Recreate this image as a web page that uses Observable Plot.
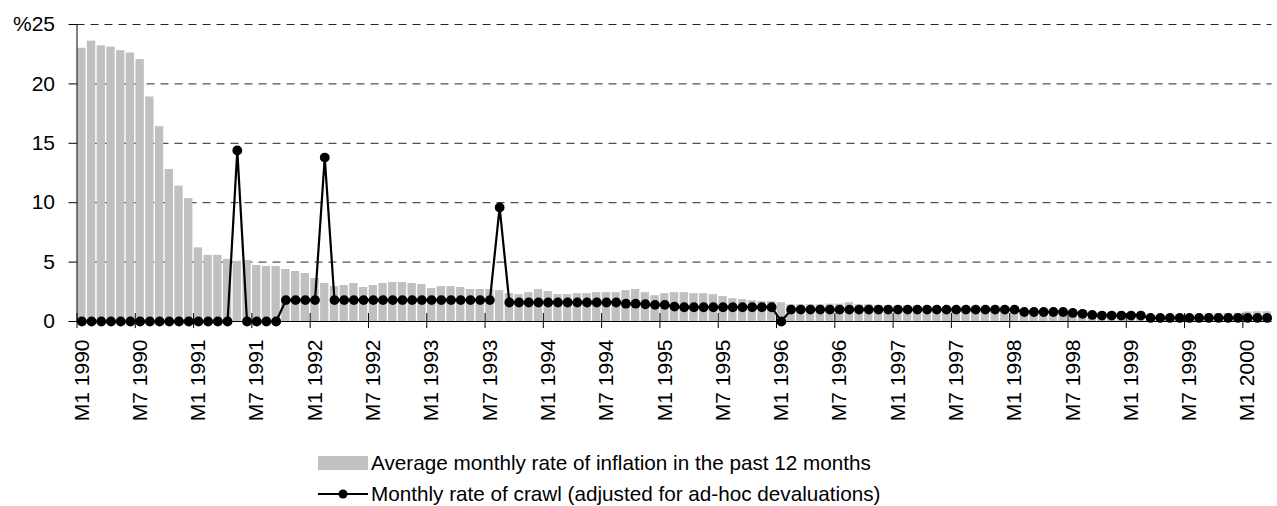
<!DOCTYPE html>
<html>
<head>
<meta charset="utf-8">
<script src="https://cdn.jsdelivr.net/npm/d3@7"></script>
<script src="https://cdn.jsdelivr.net/npm/@observablehq/plot@0.6"></script>
<style>
  html, body { margin: 0; padding: 0; background: #fff; }
  body { width: 1277px; height: 506px; position: relative; overflow: hidden; font-family: "Liberation Sans", Arial, sans-serif; }
  #chart { position: absolute; left: 0; top: 0; }
  .leg { position: absolute; left: 318px; font-size: 20.7px; line-height: 24px; color: #000; display: flex; align-items: center; white-space: nowrap; }
  .leg svg { display: block; margin-right: 3px; }
</style>
</head>
<body>
<div id="chart"></div>
<div class="leg" style="top:451px"><svg width="50" height="16"><rect x="0" y="1" width="50" height="14" fill="#c0c0c0"/></svg><span>Average monthly rate of inflation in the past 12 months</span></div>
<div class="leg" style="top:482px"><svg width="50" height="16"><line x1="0" y1="8" x2="50" y2="8" stroke="#000" stroke-width="2"/><circle cx="25" cy="8" r="4.5" fill="#000"/></svg><span>Monthly rate of crawl (adjusted for ad-hoc devaluations)</span></div>
<script>
const months = [
  "M1 1990","M2 1990","M3 1990","M4 1990","M5 1990","M6 1990","M7 1990","M8 1990","M9 1990","M10 1990","M11 1990","M12 1990",
  "M1 1991","M2 1991","M3 1991","M4 1991","M5 1991","M6 1991","M7 1991","M8 1991","M9 1991","M10 1991","M11 1991","M12 1991",
  "M1 1992","M2 1992","M3 1992","M4 1992","M5 1992","M6 1992","M7 1992","M8 1992","M9 1992","M10 1992","M11 1992","M12 1992",
  "M1 1993","M2 1993","M3 1993","M4 1993","M5 1993","M6 1993","M7 1993","M8 1993","M9 1993","M10 1993","M11 1993","M12 1993",
  "M1 1994","M2 1994","M3 1994","M4 1994","M5 1994","M6 1994","M7 1994","M8 1994","M9 1994","M10 1994","M11 1994","M12 1994",
  "M1 1995","M2 1995","M3 1995","M4 1995","M5 1995","M6 1995","M7 1995","M8 1995","M9 1995","M10 1995","M11 1995","M12 1995",
  "M1 1996","M2 1996","M3 1996","M4 1996","M5 1996","M6 1996","M7 1996","M8 1996","M9 1996","M10 1996","M11 1996","M12 1996",
  "M1 1997","M2 1997","M3 1997","M4 1997","M5 1997","M6 1997","M7 1997","M8 1997","M9 1997","M10 1997","M11 1997","M12 1997",
  "M1 1998","M2 1998","M3 1998","M4 1998","M5 1998","M6 1998","M7 1998","M8 1998","M9 1998","M10 1998","M11 1998","M12 1998",
  "M1 1999","M2 1999","M3 1999","M4 1999","M5 1999","M6 1999","M7 1999","M8 1999","M9 1999","M10 1999","M11 1999","M12 1999",
  "M1 2000","M2 2000","M3 2000"
];

// Average monthly rate of inflation in the past 12 months (%)
const inflation = [
  23.0, 23.6, 23.2, 23.1, 22.8, 22.6, 22.05, 18.9, 16.4, 12.8, 11.4, 10.35,
  6.2, 5.57, 5.57, 5.23, 5.06, 5.14, 4.72, 4.63, 4.63, 4.38, 4.21, 4.04,
  3.62, 3.2, 2.94, 3.03, 3.2, 2.86, 3.03, 3.2, 3.28, 3.28, 3.2, 3.11,
  2.77, 2.94, 2.94, 2.86, 2.69, 2.69, 2.69, 2.6, 2.34, 2.26, 2.43, 2.69,
  2.52, 2.26, 2.26, 2.34, 2.34, 2.43, 2.43, 2.43, 2.6, 2.69, 2.43, 2.18,
  2.34, 2.43, 2.43, 2.34, 2.34, 2.26, 2.1, 1.92, 1.84, 1.75, 1.67, 1.67,
  1.58, 1.41, 1.41, 1.41, 1.41, 1.46, 1.46, 1.58, 1.41, 1.41, 1.35, 1.33,
  1.3, 1.3, 1.28, 1.25, 1.22, 1.2, 1.18, 1.15, 1.12, 1.1, 1.08, 1.05,
  1.05, 1.02, 1.0, 0.98, 0.95, 0.92, 0.9, 0.85, 0.8, 0.75, 0.72, 0.7,
  0.6, 0.55, 0.52, 0.52, 0.53, 0.53, 0.55, 0.6, 0.64, 0.66, 0.68, 0.68,
  0.8, 0.82, 0.82
];

// Monthly rate of crawl, adjusted for ad-hoc devaluations (%)
const crawl = [
  0, 0, 0, 0, 0, 0, 0, 0, 0, 0, 0, 0,
  0, 0, 0, 0, 14.4, 0, 0, 0, 0, 1.8, 1.8, 1.8,
  1.8, 13.8, 1.8, 1.8, 1.8, 1.8, 1.8, 1.8, 1.8, 1.8, 1.8, 1.8,
  1.8, 1.8, 1.8, 1.8, 1.8, 1.8, 1.8, 9.6, 1.6, 1.6, 1.6, 1.6,
  1.6, 1.6, 1.6, 1.6, 1.6, 1.6, 1.6, 1.6, 1.5, 1.5, 1.45, 1.4,
  1.4, 1.25, 1.2, 1.2, 1.2, 1.2, 1.2, 1.2, 1.2, 1.2, 1.2, 1.2,
  0, 1.0, 1.0, 1.0, 1.0, 1.0, 1.0, 1.0, 1.0, 1.0, 1.0, 1.0,
  1.0, 1.0, 1.0, 1.0, 1.0, 1.0, 1.0, 1.0, 1.0, 1.0, 1.0, 1.0,
  1.0, 0.8, 0.8, 0.8, 0.8, 0.8, 0.72, 0.65, 0.55, 0.5, 0.5, 0.5,
  0.5, 0.5, 0.3, 0.3, 0.3, 0.3, 0.3, 0.3, 0.3, 0.3, 0.3, 0.3,
  0.3, 0.3, 0.3
];

const yTicks = [0, 5, 10, 15, 20, 25];
const tickLabels = [
  "M1 1990","M7 1990","M1 1991","M7 1991","M1 1992","M7 1992","M1 1993","M7 1993",
  "M1 1994","M7 1994","M1 1995","M7 1995","M1 1996","M7 1996","M1 1997","M7 1997",
  "M1 1998","M7 1998","M1 1999","M7 1999","M1 2000"
];

const table = months.map((m, i) => ({month: m, i, i1: i + 1, ic: i + 0.5, inflation: inflation[i], crawl: crawl[i]}));
const tickIdx = tickLabels.map(l => months.indexOf(l));
const labelPos = tickIdx.map(i => i + 0.5);

const chart = Plot.plot({
  width: 1277,
  height: 440,
  marginTop: 24,
  marginBottom: 119,
  marginLeft: 76.5,
  marginRight: 5.5,
  x: {domain: [0, months.length], axis: null},
  y: {domain: [0, 25], axis: null},
  style: {fontFamily: "'Liberation Sans', Arial, sans-serif", fontSize: "21px", color: "#000", background: "#fff"},
  marks: [
    Plot.ruleY(yTicks.filter(d => d > 0), {stroke: "#000", strokeOpacity: 0.85, strokeDasharray: "8,6"}),
    Plot.rectY(table, {x1: "i", x2: "i1", y: "inflation", fill: "#c0c0c0", insetLeft: 0.7, insetRight: 0.7}),
    Plot.ruleX([0], {stroke: "#000", strokeWidth: 1}),
    Plot.ruleY([0], {stroke: "#000", strokeWidth: 1}),
    Plot.ruleX(tickIdx, {x: d => d, y1: -0.6, y2: 0.67, stroke: "#000"}),
    Plot.axisY({ticks: yTicks, tickSize: 8, tickPadding: 14, tickFormat: d => d === 25 ? "%25" : String(d), fontSize: 21}),
    Plot.axisX({ticks: labelPos, tickSize: 0, tickPadding: 18, tickRotate: -90, tickFormat: d => months[Math.floor(d)], fontSize: 21}),
    Plot.line(table, {x: "ic", y: "crawl", stroke: "#000", strokeWidth: 2.2}),
    Plot.dot(table, {x: "ic", y: "crawl", r: 4.9, fill: "#000", stroke: "none"})
  ]
});
document.getElementById("chart").appendChild(chart);
</script>
</body>
</html>
